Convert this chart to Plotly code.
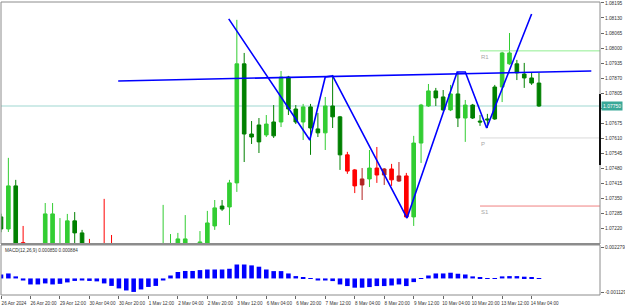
import plotly.graph_objects as go

# ---------------- data ----------------
tick_labels_x = ["26 Apr 2024", "26 Apr 20:00", "29 Apr 12:00", "30 Apr 04:00", "30 Apr 20:00",
                 "1 May 12:00", "2 May 04:00", "2 May 20:00", "3 May 12:00", "6 May 04:00",
                 "6 May 20:00", "7 May 12:00", "8 May 04:00", "8 May 20:00", "9 May 12:00",
                 "10 May 04:00", "10 May 20:00", "13 May 12:00", "14 May 04:00"]
bars_per_label = 4

opens = [1.07271, 1.07219, 1.07405, 1.07160, 1.07145, 1.07100, 1.07120, 1.07284, 1.07120, 1.07140,
         1.07254, 1.07202, 1.07140, 1.07110, 1.07080, 1.07060, 1.07040, 1.07010, 1.06990, 1.07020,
         1.07050, 1.07080, 1.07100, 1.07130, 1.07130, 1.07176, 1.07120, 1.07140, 1.07155, 1.07232,
         1.07318, 1.07314, 1.07418, 1.07932, 1.07629, 1.07595, 1.07672, 1.07621, 1.07681, 1.07875,
         1.07737, 1.07681, 1.07746, 1.07651, 1.07634, 1.07750, 1.07703, 1.07539, 1.07474, 1.07409,
         1.07435, 1.07482, 1.07452, 1.07478, 1.07426, 1.07448, 1.07271, 1.07590, 1.07750, 1.07815,
         1.07789, 1.07733, 1.07802, 1.07698, 1.07754, 1.07685, 1.07694, 1.07694, 1.07832, 1.07979,
         1.07932, 1.07888, 1.07871, 1.07849]
highs = [1.07285, 1.07526, 1.07431, 1.07232, 1.07150, 1.07140, 1.07331, 1.07331, 1.07266, 1.07284,
         1.07292, 1.07215, 1.07176, 1.07130, 1.07349, 1.07193, 1.07070, 1.07030, 1.07050, 1.07080,
         1.07110, 1.07130, 1.07323, 1.07197, 1.07202, 1.07279, 1.07150, 1.07210, 1.07297, 1.07344,
         1.07344, 1.07431, 1.08122, 1.07979, 1.07685, 1.07698, 1.07711, 1.07754, 1.07901, 1.07880,
         1.07754, 1.07759, 1.07759, 1.07720, 1.07789, 1.07884, 1.07707, 1.07552, 1.07478, 1.07482,
         1.07560, 1.07573, 1.07482, 1.07500, 1.07508, 1.07461, 1.07621, 1.07759, 1.07845, 1.07828,
         1.07819, 1.07841, 1.07897, 1.07776, 1.07759, 1.07711, 1.07716, 1.07841, 1.07984, 1.08065,
         1.07949, 1.07936, 1.07893, 1.07893]
lows = [1.07205, 1.07206, 1.07110, 1.07120, 1.07080, 1.07060, 1.07110, 1.07110, 1.07090, 1.07120,
        1.07150, 1.07120, 1.07090, 1.07060, 1.07040, 1.07020, 1.06990, 1.06960, 1.06970, 1.07000,
        1.07030, 1.07060, 1.07080, 1.07100, 1.07110, 1.07100, 1.07100, 1.07120, 1.07140, 1.07215,
        1.07297, 1.07236, 1.07379, 1.07508, 1.07586, 1.07547, 1.07616, 1.07612, 1.07659, 1.07711,
        1.07672, 1.07603, 1.07539, 1.07616, 1.07560, 1.07655, 1.07474, 1.07457, 1.07374, 1.07344,
        1.07400, 1.07418, 1.07409, 1.07405, 1.07422, 1.07266, 1.07232, 1.07504, 1.07746, 1.07750,
        1.07728, 1.07728, 1.07659, 1.07595, 1.07694, 1.07664, 1.07655, 1.07690, 1.07767, 1.07928,
        1.07862, 1.07828, 1.07841, 1.07746]
closes = [1.07219, 1.07405, 1.07130, 1.07145, 1.07100, 1.07120, 1.07284, 1.07130, 1.07140, 1.07254,
          1.07202, 1.07140, 1.07110, 1.07080, 1.07060, 1.07040, 1.07010, 1.06990, 1.07020, 1.07050,
          1.07080, 1.07100, 1.07130, 1.07150, 1.07176, 1.07120, 1.07140, 1.07163, 1.07245, 1.07310,
          1.07305, 1.07418, 1.07932, 1.07629, 1.07616, 1.07668, 1.07625, 1.07681, 1.07875, 1.07737,
          1.07681, 1.07746, 1.07655, 1.07634, 1.07750, 1.07703, 1.07539, 1.07469, 1.07405, 1.07435,
          1.07482, 1.07452, 1.07478, 1.07431, 1.07448, 1.07271, 1.07590, 1.07754, 1.07815, 1.07785,
          1.07733, 1.07802, 1.07698, 1.07754, 1.07698, 1.07681, 1.07690, 1.07832, 1.07979, 1.07932,
          1.07893, 1.07871, 1.07849, 1.07750]
# candle colour class: g = bull green, d = bear dark green, r = bear red, m = bull dark red
candle_class = list("dgdrrgggggddrrrrrrggggggggdgggdggdddgdgddgddgddrrmgrmrmrgggddgdgddddggdddd")

macd_hist = [0.00027, 0.00034, 0.00014, -0.00014, -0.00041, -0.00041, -0.00034, -0.00041, -0.00037, -0.00027,
             -0.00017, -0.00014, -0.00017, -0.00020, -0.00034, -0.00051, -0.00068, -0.00082, -0.00092, -0.00075,
             -0.00058, -0.00051, -0.00014, 0.00020, 0.00044, 0.00051, 0.00051, 0.00057, 0.00061, 0.00061,
             0.00061, 0.00066, 0.00095, 0.00095, 0.00089, 0.00080, 0.00061, 0.00050, 0.00050, 0.00034,
             0.00016, 0.00009, 0.00002, -0.00014, -0.00014, -0.00018, -0.00041, -0.00052, -0.00063, -0.00063,
             -0.00059, -0.00052, -0.00052, -0.00048, -0.00041, -0.00052, -0.00025, -0.00002, 0.00020, 0.00034,
             0.00034, 0.00039, 0.00032, 0.00027, 0.00014, 0.00007, 0.00002, 0.00002, 0.00014, 0.00016,
             0.00016, 0.00012, 0.00007, 0.00002]
macd_title = "MACD(12,26,9) 0.000850 0.000884"

zigzag_idx = [30.9, 41.9, 44.0, 45.0, 55.1, 61.9, 63.0, 65.9, 72.0]
zigzag_price = [1.08126, 1.07603, 1.07875, 1.07880, 1.07266, 1.07897, 1.07897, 1.07655, 1.08147]
trend_idx = [15.9, 80.1]
trend_price = [1.07858, 1.07901]

pivot_names = ["R1", "P", "S1"]
pivot_levels = [1.07988, 1.07612, 1.07318]
pivot_colors = ["#90ee90", "#d9d9d9", "#f08080"]
pivot_start_idx = 65

price_ticks = [1.08195, 1.08130, 1.08065, 1.08000, 1.07935, 1.07870, 1.07805, 1.07740,
               1.07675, 1.07610, 1.07545, 1.07480, 1.07415, 1.07350, 1.07285, 1.07220]
macd_scale_labels = [0.002279, -0.001129]
price_range = [1.07154, 1.08199]
macd_range = [-0.001129, 0.002279]
x_range = [0.0, 81.28]
scale_bar = [1.07495, 1.07802]

# ---------------- figure ----------------
FONT = "Liberation Sans"
n = len(opens)
idx = list(range(n))
fig = go.Figure()

class_colors = {"g": "#32cd32", "d": "#008000", "r": "#ff0000", "m": "#b22222"}
for cls, col in class_colors.items():
    sel = [i for i in idx if candle_class[i] == cls]
    fig.add_trace(go.Candlestick(
        x=sel, open=[opens[i] for i in sel], high=[highs[i] for i in sel],
        low=[lows[i] for i in sel], close=[closes[i] for i in sel],
        increasing=dict(line=dict(color=col, width=1), fillcolor=col),
        decreasing=dict(line=dict(color=col, width=1), fillcolor=col),
        xaxis="x", yaxis="y", showlegend=False, hoverinfo="skip"))

for name, lvl, col in zip(pivot_names, pivot_levels, pivot_colors):
    fig.add_trace(go.Scatter(x=[pivot_start_idx, x_range[1]], y=[lvl, lvl], mode="lines",
                             line=dict(color=col, width=1), showlegend=False, hoverinfo="skip",
                             xaxis="x", yaxis="y"))
    fig.add_annotation(x=pivot_start_idx, y=lvl, xref="x", yref="y", text=name, showarrow=False,
                       xanchor="left", yanchor="top", xshift=-1, yshift=-1,
                       font=dict(family=FONT, size=6, color="#a8a8a8"))

fig.add_trace(go.Scatter(x=trend_idx, y=trend_price, mode="lines", line=dict(color="#0000ff", width=1.6),
                         showlegend=False, hoverinfo="skip", xaxis="x", yaxis="y"))
fig.add_trace(go.Scatter(x=zigzag_idx, y=zigzag_price, mode="lines", line=dict(color="#0000ff", width=1.6),
                         showlegend=False, hoverinfo="skip", xaxis="x", yaxis="y"))

fig.add_trace(go.Bar(x=idx, y=macd_hist, marker=dict(color="#0000ff", line=dict(width=0)), width=0.62,
                     showlegend=False, hoverinfo="skip", xaxis="x", yaxis="y2"))

last_price = closes[-1]
# current price line
fig.add_shape(type="line", xref="x domain", x0=0, x1=1, yref="y", y0=last_price, y1=last_price,
              line=dict(color="#bfe4e0", width=1.5), layer="below")
# panel borders
fig.add_shape(type="rect", xref="x domain", x0=0, x1=1, yref="y domain", y0=0, y1=1,
              line=dict(color="#8c8c8c", width=1))
fig.add_shape(type="rect", xref="x domain", x0=0, x1=1, yref="y2 domain", y0=0, y1=1,
              line=dict(color="#8c8c8c", width=1))
fig.add_shape(type="line", xref="x domain", x0=0, x1=1, yref="y domain", y0=0, y1=0,
              line=dict(color="#8c8c8c", width=2))
# scale bar on price axis
fig.add_shape(type="line", xref="x domain", x0=1, x1=1, yref="y", y0=scale_bar[0], y1=scale_bar[1],
              line=dict(color="#111111", width=2))

fig.add_annotation(xref="paper", x=1, yref="y", y=last_price, text=f"{last_price:.5f}", showarrow=False,
                   xanchor="left", yanchor="middle", xshift=1, bgcolor="#3aa898", borderpad=1,
                   font=dict(family=FONT, size=5, color="#ffffff"))
fig.add_annotation(xref="x domain", x=0, yref="y2 domain", y=1, text=macd_title, showarrow=False,
                   xanchor="left", yanchor="top", xshift=2, yshift=-1,
                   font=dict(family=FONT, size=4.6, color="#333333"))

tick_vals_x = [i * bars_per_label for i in range(len(tick_labels_x))]
# the 1.07740 label sits under the current-price box
price_ticktext = ["" if abs(v - 1.07740) < 1e-9 else f"{v:.5f}" for v in price_ticks]
# MT5 prints the sub-window scale limits just inside the panel edges
macd_span = macd_range[1] - macd_range[0]
macd_tickvals = [macd_scale_labels[0] - 0.045 * macd_span, macd_scale_labels[1] + 0.045 * macd_span]

fig.update_layout(
    width=625, height=305,
    margin=dict(l=1, r=25, t=2, b=10, autoexpand=False),
    paper_bgcolor="white", plot_bgcolor="white",
    boxgap=0.3,
    xaxis=dict(domain=[0, 1], anchor="y2", range=x_range, tickvals=tick_vals_x, ticktext=tick_labels_x,
               showgrid=False, zeroline=False, showline=False, ticks="outside", ticklen=3,
               tickcolor="#666666", rangeslider=dict(visible=False), ticklabelshift=13,
               tickangle=0, automargin=False,
               tickfont=dict(family=FONT, size=4.6, color="#333333")),
    yaxis=dict(domain=[0.174, 1], anchor="x", side="right", range=price_range, tickvals=price_ticks,
               ticktext=price_ticktext, showgrid=False, zeroline=False, automargin=False,
               ticks="outside", ticklen=3, tickcolor="#666666",
               tickfont=dict(family=FONT, size=4.8, color="#333333")),
    yaxis2=dict(domain=[0, 0.1706], anchor="x", side="right", range=macd_range, tickvals=macd_tickvals,
                ticktext=[f"{v:.6f}" for v in macd_scale_labels], showgrid=False, zeroline=False,
                automargin=False, ticks="outside", ticklen=3, tickcolor="#666666",
                tickfont=dict(family=FONT, size=4.8, color="#333333")),
)

fig.write_html("out.html")
